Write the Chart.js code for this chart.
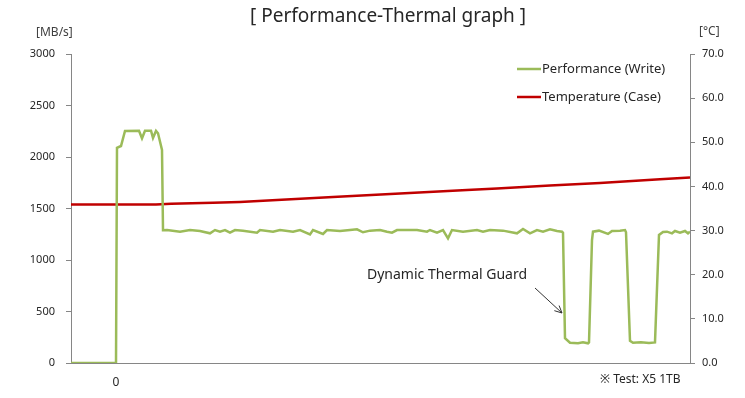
<!DOCTYPE html>
<html>
<head>
<meta charset="utf-8">
<script src="https://cdn.jsdelivr.net/npm/chart.js@4.4.0/dist/chart.umd.min.js"></script>
<style>
  html, body { margin: 0; padding: 0; background: #fff; }
  #wrap { width: 745px; height: 398px; }
</style>
</head>
<body>
<div id="wrap"><canvas id="perfChart" width="745" height="398"></canvas></div>
<script>
'use strict';

// time axis (arbitrary units, 0 = write start)
const perfTime = [-45, 0, 1, 5, 9, 23, 26, 29, 35, 37, 40, 42, 46, 47, 51, 64, 74, 84, 94, 99, 104, 109, 114, 119,
    127, 141, 144, 157, 164, 177, 184, 194, 197, 207, 211, 224, 234, 241, 247, 254, 264, 271, 276, 281, 301, 311,
    314, 321, 327, 332, 336, 347, 361, 367, 374, 387, 401, 407, 414, 421, 427, 434, 441, 446, 447, 449, 454, 462,
    467, 472, 473, 476, 477, 483, 492, 496, 504, 509, 510, 514, 517, 525, 533, 539, 543, 547, 551, 556, 559, 564,
    569, 572, 574];
// MB/s
const perfWrite = [0, 0, 2090, 2107, 2253, 2255, 2182, 2255, 2255, 2185, 2253, 2230, 2068, 1290, 1291, 1275, 1291,
    1282, 1259, 1291, 1275, 1291, 1265, 1291, 1285, 1265, 1291, 1275, 1291, 1275, 1291, 1249, 1291, 1253, 1291, 1282,
    1291, 1298, 1269, 1285, 1291, 1275, 1265, 1291, 1291, 1275, 1291, 1265, 1291, 1210, 1291, 1275, 1291, 1275, 1291,
    1285, 1259, 1301, 1259, 1291, 1275, 1298, 1282, 1275, 1265, 240, 197, 191, 201, 191, 200, 1194, 1275, 1285, 1253,
    1282, 1285, 1291, 1270, 215, 197, 201, 194, 200, 1243, 1272, 1275, 1259, 1282, 1265, 1282, 1259, 1275];

const tempTime = [-45, 40, 55, 97, 124, 161, 217, 284, 351, 381, 434, 484, 544, 574];
// °C
const tempCase = [35.9, 35.9, 36.1, 36.3, 36.5, 36.9, 37.6, 38.4, 39.2, 39.55, 40.2, 40.8, 41.6, 42.0];

const perfTicks = [0, 500, 1000, 1500, 2000, 2500, 3000];
const tempTicks = [0, 10, 20, 30, 40, 50, 60, 70];
const xTicks = [0];

const seriesNames = ['Performance (Write)', 'Temperature (Case)'];

const colors = {
    green: '#9BBB59',
    red: '#C00000',
    axis: '#868686',
    text: '#262626'
};

const FONT = '"Noto Sans", "DejaVu Sans", sans-serif';

const extrasPlugin = {
    id: 'extras',
    afterDraw(chart) {
        const ctx = chart.ctx;
        ctx.save();
        ctx.fillStyle = colors.text;
        ctx.textBaseline = 'middle';

        // title
        ctx.font = '19px ' + FONT;
        ctx.textAlign = 'center';
        ctx.fillText('[ Performance-Thermal graph ]', 388, 17);

        // axis units
        ctx.font = '12px ' + FONT;
        ctx.textAlign = 'left';
        ctx.fillStyle = '#404040';
        ctx.fillText('[MB/s]', 36, 33);
        ctx.fillText('[°C]', 699, 32);

        // legend
        ctx.font = '13px ' + FONT;
        ctx.fillStyle = colors.text;
        const legendY = [69, 97];
        chart.data.datasets.forEach((ds, i) => {
            ctx.strokeStyle = ds.borderColor;
            ctx.lineWidth = 2.5;
            ctx.beginPath();
            ctx.moveTo(517, legendY[i]);
            ctx.lineTo(541, legendY[i]);
            ctx.stroke();
            ctx.fillText(ds.label, 542, legendY[i]);
        });

        // annotation
        ctx.font = '14px ' + FONT;
        ctx.fillText('Dynamic Thermal Guard', 367, 275);
        ctx.strokeStyle = '#333';
        ctx.lineWidth = 1;
        const ax0 = 535, ay0 = 288, ax1 = 562, ay1 = 313;
        ctx.beginPath();
        ctx.moveTo(ax0, ay0);
        ctx.lineTo(ax1, ay1);
        const ang = Math.atan2(ay1 - ay0, ax1 - ax0);
        ctx.moveTo(ax1, ay1);
        ctx.lineTo(ax1 - 8 * Math.cos(ang - 0.45), ay1 - 8 * Math.sin(ang - 0.45));
        ctx.moveTo(ax1, ay1);
        ctx.lineTo(ax1 - 8 * Math.cos(ang + 0.45), ay1 - 8 * Math.sin(ang + 0.45));
        ctx.stroke();

        // footnote
        ctx.font = '12px ' + FONT;
        ctx.fillText('※ Test: X5 1TB', 600, 380);
        ctx.restore();
    }
};

new Chart(document.getElementById('perfChart'), {
    type: 'line',
    data: {
        datasets: [{
            label: seriesNames[0],
            data: perfTime.map((t, i) => ({ x: t, y: perfWrite[i] })),
            borderColor: colors.green,
            borderWidth: 2.5,
            pointRadius: 0,
            tension: 0,
            yAxisID: 'y'
        }, {
            label: seriesNames[1],
            data: tempTime.map((t, i) => ({ x: t, y: tempCase[i] })),
            borderColor: colors.red,
            borderWidth: 2.5,
            pointRadius: 0,
            tension: 0,
            yAxisID: 'y1'
        }]
    },
    options: {
        responsive: false,
        animation: false,
        layout: { padding: { top: 54, left: 0, right: 0, bottom: 0 } },
        plugins: {
            legend: { display: false },
            title: { display: false },
            tooltip: { enabled: false }
        },
        scales: {
            x: {
                type: 'linear',
                min: -45,
                max: 574,
                afterBuildTicks: (s) => { s.ticks = xTicks.map(v => ({ value: v })); },
                afterFit: (s) => { s.height = 35; },
                grid: { display: false },
                border: { display: true, color: colors.axis, width: 1 },
                ticks: { color: colors.text, font: { family: FONT, size: 12 }, padding: 4, callback: (v) => String(v) }
            },
            y: {
                position: 'left',
                min: 0,
                max: 3000,
                afterBuildTicks: (s) => { s.ticks = perfTicks.map(v => ({ value: v })); },
                afterFit: (s) => { s.width = 71; },
                grid: { drawOnChartArea: false, drawTicks: true, tickLength: 5, color: colors.axis },
                border: { display: true, color: colors.axis, width: 1 },
                ticks: { color: colors.text, font: { family: FONT, size: 11 }, padding: 11, callback: (v) => String(v) }
            },
            y1: {
                position: 'right',
                min: 0,
                max: 70,
                afterBuildTicks: (s) => { s.ticks = tempTicks.map(v => ({ value: v })); },
                afterFit: (s) => { s.width = 55; },
                grid: { drawOnChartArea: false, drawTicks: true, tickLength: 5, color: colors.axis },
                border: { display: true, color: colors.axis, width: 1 },
                ticks: {
                    color: colors.text,
                    font: { family: FONT, size: 11 },
                    padding: 7,
                    callback: (v) => Number(v).toFixed(1)
                }
            }
        }
    },
    plugins: [extrasPlugin]
});
</script>
</body>
</html>
